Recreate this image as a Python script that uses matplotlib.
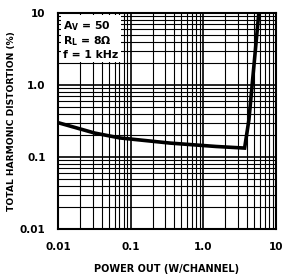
import matplotlib
matplotlib.use("Agg")
import matplotlib.pyplot as plt
from matplotlib.ticker import FixedLocator, LogLocator, NullFormatter

plt.rcParams['font.family'] = ['DejaVu Sans']
plt.rcParams['mathtext.fontset'] = 'custom'
plt.rcParams['mathtext.rm'] = 'DejaVu Sans:bold'
plt.rcParams['mathtext.it'] = 'DejaVu Sans:bold'
plt.rcParams['mathtext.default'] = 'rm'

power = [0.01, 0.032, 0.071, 0.35, 1.5, 3.7, 4.24, 5.8]
thd = [0.30, 0.215, 0.184, 0.156, 0.14, 0.133, 0.33, 10.0]

x_ticks = [0.01, 0.1, 1.0, 10]
x_labels = ["0.01", "0.1", "1.0", "10"]
y_ticks = [0.01, 0.1, 1.0, 10]
y_labels = ["0.01", "0.1", "1.0", "10"]

fig = plt.figure(figsize=(2.86, 2.78), dpi=100)
ax = fig.add_axes([58/286, 49/278, 218/286, 216/278])
ax.set_xscale('log')
ax.set_yscale('log')
ax.set_xlim(0.01, 10)
ax.set_ylim(0.01, 10)

ax.plot(power, thd, color='black', lw=2.6, solid_joinstyle='miter', zorder=3)

ax.xaxis.set_major_locator(FixedLocator(x_ticks))
ax.yaxis.set_major_locator(FixedLocator(y_ticks))
ax.set_xticklabels(x_labels, fontweight='bold', fontsize=7.5)
ax.set_yticklabels(y_labels, fontweight='bold', fontsize=7.5)
ax.xaxis.set_minor_locator(LogLocator(base=10, subs=range(2, 10)))
ax.yaxis.set_minor_locator(LogLocator(base=10, subs=range(2, 10)))
ax.xaxis.set_minor_formatter(NullFormatter())
ax.yaxis.set_minor_formatter(NullFormatter())
ax.tick_params(which='both', length=0, pad=9)
ax.grid(which='major', color='black', lw=1.2)
ax.grid(which='minor', color='black', lw=0.8)
for s in ax.spines.values():
    s.set_linewidth(1.5)

ax.set_xlabel("POWER OUT (W/CHANNEL)", fontweight='bold', fontsize=7, labelpad=9)
ax.set_ylabel("TOTAL HARMONIC DISTORTION (%)", fontweight='bold', fontsize=6.6, labelpad=3)

ax.text(0.0118, 4.3, "A$_V$ = 50\nR$_L$ = 8\u03a9\nf = 1 kHz", fontsize=7.8, fontweight='bold',
        va='center', ha='left', linespacing=1.2,
        bbox=dict(facecolor='white', edgecolor='none', pad=1.5), zorder=4)

fig.savefig("out.png", dpi=100, facecolor='white')
